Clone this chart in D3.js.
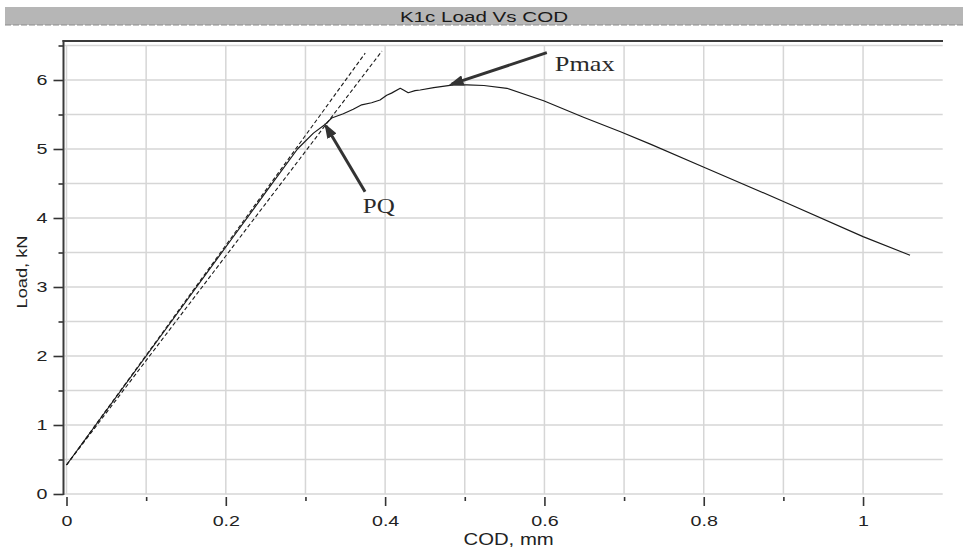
<!DOCTYPE html>
<html>
<head>
<meta charset="utf-8">
<script src="https://cdn.jsdelivr.net/npm/d3@7"></script>
<style>
  body { margin: 0; background: #fff; }
  svg { display: block; }
</style>
</head>
<body>
<div id="chart"></div>
<script>
// measured curve, COD (mm) vs load (kN)
const codValues = [0, 0.05, 0.1, 0.15, 0.2, 0.25, 0.29, 0.31, 0.325, 0.333, 0.3475, 0.36, 0.3706,
    0.383, 0.3936, 0.402, 0.408, 0.419, 0.423, 0.429, 0.4375, 0.444, 0.461, 0.486, 0.503, 0.524,
    0.553, 0.599, 0.649, 0.6955, 0.733, 0.7995, 0.9, 1.0, 1.059];
const loadValues = [0.42, 1.21, 2.0, 2.79, 3.58, 4.37, 5.0, 5.23, 5.36, 5.45, 5.51, 5.575, 5.64,
    5.67, 5.71, 5.78, 5.81, 5.88, 5.855, 5.815, 5.845, 5.855, 5.89, 5.93, 5.93, 5.92,
    5.88, 5.70, 5.46, 5.25, 5.07, 4.74, 4.24, 3.73, 3.46];

// construction lines (initial tangent and 95% secant)
const tangentCod = [0, 0.375];
const tangentLoad = [0.42, 6.39];
const secantCod = [0, 0.396];
const secantLoad = [0.42, 6.42];

const xMajorTicks = [0, 0.2, 0.4, 0.6, 0.8, 1];
const xMinorTicks = [0.1, 0.3, 0.5, 0.7, 0.9];
const xGrid = [0, 0.1, 0.2, 0.3, 0.4, 0.5, 0.6, 0.7, 0.8, 0.9, 1.0];
const yMajorTicks = [0, 1, 2, 3, 4, 5, 6];
const yMinorTicks = [0.5, 1.5, 2.5, 3.5, 4.5, 5.5, 6.5];
const yGrid = [0, 0.5, 1, 1.5, 2, 2.5, 3, 3.5, 4, 4.5, 5, 5.5, 6, 6.5];

// arrow annotations
const annLabels = ["Pmax", "PQ"];
const annLabelCod = [0.613, 0.372];
const annLabelLoad = [6.135, 4.068];
const annTailCod = [0.603, 0.3748];
const annTailLoad = [6.396, 4.381];
const annTipCod = [0.4836, 0.3258];
const annTipLoad = [5.94, 5.333];

const width = 968;
const height = 555;
const stretch = 1.27;
const sans = "'Liberation Sans', Arial, Helvetica, sans-serif";
const serif = "'Liberation Serif', 'Times New Roman', serif";

const svg = d3.select("#chart")
    .append("svg")
    .attr("width", width)
    .attr("height", height);

const x = d3.scaleLinear().domain([0, 1.1]).range([66.5, 942.7]);
const y = d3.scaleLinear().domain([0, 6.5]).range([494, 45.5]);

// title bar
svg.append("rect")
    .attr("x", 5).attr("y", 7)
    .attr("width", 958).attr("height", 18)
    .attr("fill", "#b6b6b6");
svg.append("line")
    .attr("x1", 5).attr("x2", 963)
    .attr("y1", 25).attr("y2", 25)
    .attr("stroke", "#8c8c8c")
    .attr("stroke-dasharray", "6,2");
svg.append("text")
    .attr("transform", `translate(484,22) scale(1.33,1)`)
    .attr("text-anchor", "middle")
    .style("font-family", sans)
    .style("font-size", "15.5px")
    .style("fill", "#1a1a1a")
    .text("K1c Load Vs COD");

// grid
svg.append("g")
    .selectAll("line")
    .data(xGrid)
    .enter()
    .append("line")
    .attr("x1", d => x(d)).attr("x2", d => x(d))
    .attr("y1", y(6.5)).attr("y2", y(0))
    .attr("stroke", "#d6d6d6")
    .attr("stroke-width", 1.5);

svg.append("g")
    .selectAll("line")
    .data(yGrid)
    .enter()
    .append("line")
    .attr("x1", x(0) - 2).attr("x2", x(1.1))
    .attr("y1", d => y(d)).attr("y2", d => y(d))
    .attr("stroke", "#d6d6d6")
    .attr("stroke-width", 1.5);

// y axis
const yAxisMajor = d3.axisLeft(y).tickValues(yMajorTicks).tickSize(10).tickFormat(d3.format("d"));
const yAxisMinor = d3.axisLeft(y).tickValues(yMinorTicks).tickSize(5).tickFormat("");

const gy = svg.append("g").attr("transform", "translate(63.5,0)").call(yAxisMajor);
const gy2 = svg.append("g").attr("transform", "translate(63.5,0)").call(yAxisMinor);
[gy, gy2].forEach(g => {
    g.select(".domain").remove();
    g.selectAll("line").attr("stroke", "#333").attr("stroke-width", 1.6);
});
gy.selectAll("text")
    .attr("x", -16 / stretch)
    .attr("transform", `scale(${stretch},1)`)
    .style("font-family", sans)
    .style("font-size", "15.5px")
    .style("fill", "#222");

svg.append("line")
    .attr("x1", 63.5).attr("x2", 63.5)
    .attr("y1", 40).attr("y2", y(0) + 1)
    .attr("stroke", "#3a3a3a")
    .attr("stroke-width", 2);

// x axis
const xAxisMajor = d3.axisBottom(x).tickValues(xMajorTicks).tickSize(9).tickPadding(9).tickFormat(d3.format("~g"));
const xAxisMinor = d3.axisBottom(x).tickValues(xMinorTicks).tickSize(4).tickFormat("");

const gx = svg.append("g").attr("transform", "translate(0,497)").call(xAxisMajor);
const gx2 = svg.append("g").attr("transform", "translate(0,497)").call(xAxisMinor);
[gx, gx2].forEach(g => {
    g.select(".domain").remove();
    g.selectAll("line").attr("stroke", "#333").attr("stroke-width", 1.6);
});
gx.selectAll("text")
    .attr("transform", `scale(${stretch},1)`)
    .style("font-family", sans)
    .style("font-size", "15.5px")
    .style("fill", "#222");

// top border
svg.append("line")
    .attr("x1", 62.5).attr("x2", 943)
    .attr("y1", 41).attr("y2", 41)
    .attr("stroke", "#3a3a3a")
    .attr("stroke-width", 2);

// axis titles
svg.append("text")
    .attr("transform", `translate(${x(0.55) + 4},545) scale(${stretch},1)`)
    .attr("text-anchor", "middle")
    .style("font-family", sans)
    .style("font-size", "16px")
    .style("fill", "#222")
    .text("COD, mm");

svg.append("text")
    .attr("transform", `translate(27,272) rotate(-90) scale(1.3,1)`)
    .attr("text-anchor", "middle")
    .style("font-family", sans)
    .style("font-size", "14px")
    .style("fill", "#222")
    .text("Load, kN");

// construction lines
const line = d3.line().x(d => x(d[0])).y(d => y(d[1]));

[[tangentCod, tangentLoad], [secantCod, secantLoad]].forEach(([cs, ls]) => {
    svg.append("path")
        .datum(d3.zip(cs, ls))
        .attr("d", line)
        .attr("fill", "none")
        .attr("stroke", "#1a1a1a")
        .attr("stroke-width", 1.1)
        .attr("stroke-dasharray", "4,2.5");
});

// main curve
svg.append("path")
    .datum(d3.zip(codValues, loadValues))
    .attr("d", line)
    .attr("fill", "none")
    .attr("stroke", "#1a1a1a")
    .attr("stroke-width", 1.2)
    .attr("stroke-linejoin", "round");

// annotations
svg.append("defs")
    .append("marker")
    .attr("id", "arrowhead")
    .attr("viewBox", "0 0 14 10")
    .attr("refX", 11).attr("refY", 5)
    .attr("markerWidth", 5).attr("markerHeight", 3.6)
    .attr("markerUnits", "strokeWidth")
    .attr("orient", "auto")
    .append("path")
    .attr("d", "M0,0 L14,5 L0,10 z")
    .attr("fill", "#333");

annLabels.forEach((label, i) => {
    svg.append("line")
        .attr("x1", x(annTailCod[i])).attr("y1", y(annTailLoad[i]))
        .attr("x2", x(annTipCod[i])).attr("y2", y(annTipLoad[i]))
        .attr("stroke", "#333")
        .attr("stroke-width", 3)
        .attr("marker-end", "url(#arrowhead)");

    svg.append("text")
        .attr("transform", `translate(${x(annLabelCod[i])},${y(annLabelLoad[i])}) scale(1.25,1)`)
        .style("font-family", serif)
        .style("font-size", i === 0 ? "21px" : "20px")
        .style("fill", "#2a2a2a")
        .text(label);
});
</script>
</body>
</html>
